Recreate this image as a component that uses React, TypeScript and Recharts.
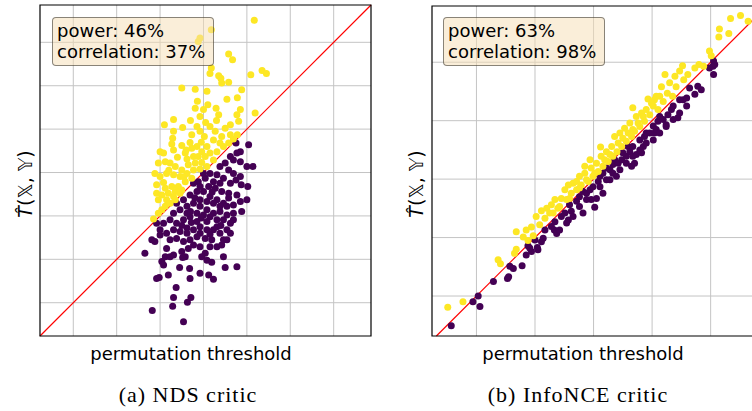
import { ReferenceArea, ReferenceLine, Scatter, ScatterChart, XAxis, YAxis } from "recharts";

type Pt = [number, number];

// grid units: one grid cell = 1, ticks are not labelled in the figure
const ndsTicks = [1, 2, 3, 4, 5, 6, 7];
const ndsDomain: [number, number] = [0.233, 7.86];
const nceTicks = [1, 2, 3, 4, 5];
const nceXDomain: [number, number] = [0.241, 5.894];
const nceYDomain: [number, number] = [0.316, 5.962];

const ndsStats = ["power: 46%", "correlation: 37%"];
const nceStats = ["power: 63%", "correlation: 98%"];

// NDS critic: above the diagonal (yellow) / below (purple)
const ndsAbove: Pt[] = [
  [5.17, 7.51], [4.18, 7.29], [3.92, 7.1], [3.88, 7.02], [4.58, 6.73], [4.67, 6.6], [4.18, 6.41], [4.15, 6.28],
  [4.35, 6.23], [4.4, 6.17], [4.42, 6.06], [4.58, 6.08], [5.35, 6.35], [5.45, 6.28], [5.09, 6.25], [3.5, 5.95],
  [3.81, 5.92], [4.08, 5.87], [4.88, 5.91], [4.78, 5.72], [4.54, 5.69], [5.19, 5.37], [3.1, 5.1], [3.31, 5.22],
  [3.52, 5.04], [3.92, 5.29], [4.0, 5.45], [4.1, 5.56], [4.29, 5.48], [4.35, 5.33], [4.62, 5.1], [4.77, 5.33],
  [4.85, 5.45], [4.81, 5.18], [4.5, 5.02], [3.81, 5.48], [3.86, 5.64], [3.31, 4.95], [3.29, 4.79], [3.73, 4.87],
  [3.85, 5.06], [3.92, 4.95], [4.02, 4.83], [4.15, 5.06], [4.27, 4.95], [4.42, 4.83], [4.62, 4.87], [4.78, 4.87],
  [4.69, 4.77], [4.58, 4.68], [4.38, 4.68], [4.23, 4.75], [4.08, 4.6], [3.96, 4.48], [3.85, 4.6], [3.69, 4.69],
  [3.73, 4.56], [3.58, 4.45], [3.62, 4.31], [3.77, 4.37], [3.88, 4.37], [4.04, 4.37], [4.15, 4.45], [4.31, 4.48],
  [4.46, 4.6], [3.0, 4.48], [3.08, 4.45], [3.31, 4.52], [3.27, 4.66], [3.5, 4.62], [2.96, 4.22], [3.12, 4.25],
  [3.23, 4.22], [3.35, 4.14], [3.5, 4.06], [3.65, 4.18], [3.81, 4.22], [3.96, 4.23], [4.08, 4.14], [4.23, 4.29],
  [2.88, 3.98], [3.0, 3.91], [3.15, 3.98], [3.31, 3.95], [3.46, 3.91], [3.62, 3.98], [3.77, 4.06], [3.92, 4.08],
  [3.08, 3.77], [2.92, 3.72], [3.12, 3.64], [3.27, 3.68], [3.42, 3.68], [3.58, 3.79], [3.73, 3.87], [2.92, 3.52],
  [3.04, 3.48], [3.19, 3.52], [3.35, 3.56], [3.5, 3.6], [2.96, 3.37], [3.15, 3.37], [3.31, 3.45], [3.46, 3.52],
  [3.12, 3.22], [3.23, 3.29], [3.35, 3.37], [2.85, 2.93], [2.96, 3.06], [3.04, 3.14],
  [3.4, 4.35], [3.6, 4.52], [3.95, 4.7], [4.3, 5.2], [4.05, 5.15], [3.7, 5.2], [3.2, 4.05], [3.55, 3.9],
];

const ndsBelow: Pt[] = [
  [4.75, 4.68], [5.04, 4.64], [4.85, 4.48], [4.77, 4.45], [4.62, 4.37], [4.69, 4.29], [4.85, 4.25], [4.5, 4.22],
  [4.38, 4.14], [4.58, 4.06], [4.69, 3.98], [4.85, 3.91], [5.0, 4.14], [5.14, 4.14], [5.02, 3.68], [4.87, 3.72],
  [4.75, 3.83], [4.46, 3.87], [4.31, 3.95], [4.15, 3.98], [4.04, 3.87], [3.88, 3.79], [4.12, 3.68], [4.27, 3.64],
  [4.42, 3.56], [4.58, 3.52], [4.77, 3.48], [4.85, 3.33], [4.69, 3.25], [4.46, 3.29], [4.31, 3.37], [4.15, 3.45],
  [4.0, 3.56], [3.85, 3.56], [3.69, 3.48], [3.54, 3.37], [3.38, 3.29], [3.46, 3.14], [3.62, 3.22], [3.77, 3.29],
  [3.92, 3.22], [4.08, 3.14], [4.23, 3.06], [4.38, 3.1], [4.54, 3.02], [4.69, 2.91], [4.88, 3.1], [4.62, 2.83],
  [4.46, 2.91], [4.31, 2.91], [4.15, 2.98], [4.0, 3.02], [3.85, 3.06], [3.69, 2.98], [3.54, 2.91], [3.38, 2.83],
  [3.23, 2.91], [3.08, 2.83], [2.92, 2.83], [3.0, 2.68], [3.31, 3.06], [3.0, 2.56], [3.15, 2.6], [3.31, 2.68],
  [3.46, 2.64], [3.62, 2.72], [3.77, 2.68], [3.92, 2.75], [4.08, 2.68], [4.23, 2.68], [4.38, 2.6], [4.54, 2.68],
  [4.62, 2.6], [3.38, 2.48], [3.54, 2.41], [3.69, 2.45], [3.77, 2.33], [3.65, 2.25], [3.5, 2.18], [4.04, 2.48],
  [4.19, 2.45], [4.31, 2.29], [4.15, 2.29], [4.42, 2.33], [4.46, 2.45], [4.04, 2.14], [3.96, 2.06], [4.08, 1.98],
  [4.19, 1.93], [4.46, 2.06], [3.58, 2.06], [3.52, 2.04], [2.81, 2.45], [2.88, 2.41], [2.65, 2.14], [3.04, 1.95],
  [3.08, 1.87], [3.12, 2.06], [3.23, 2.06], [3.31, 2.1], [2.92, 1.56], [2.98, 1.58], [3.19, 1.64], [3.45, 1.81],
  [3.68, 1.79], [3.69, 1.56], [3.92, 1.68], [4.12, 1.64], [4.23, 1.54], [4.5, 1.81], [4.77, 1.83], [3.37, 1.35],
  [3.31, 1.12], [3.29, 0.92], [3.63, 1.01], [3.71, 1.12], [2.82, 0.82], [3.54, 0.56], [3.92, 3.37], [4.23, 3.29],
  [4.54, 3.22], [4.38, 3.75], [4.62, 3.75], [4.23, 3.79], [3.92, 3.68], [3.77, 3.75], [3.62, 3.06], [4.08, 2.87],
  [3.85, 2.87], [3.62, 2.6], [3.92, 2.6], [4.31, 2.75], [4.69, 3.06], [4.54, 2.45], [3.85, 2.52], [3.23, 2.45],
  [3.15, 2.25], [3.92, 2.29], [5.0, 3.37], [4.58, 3.41], [4.38, 3.22], [4.08, 3.33], [4.0, 3.98],
  [3.7, 3.1], [3.95, 2.95], [4.2, 3.55], [4.4, 2.78], [3.5, 2.78], [3.72, 2.85], [4.15, 2.58], [3.8, 3.42],
];

// InfoNCE critic
const nceAbove: Pt[] = [
  [0.51, 0.81], [0.77, 0.9], [1.37, 1.62], [1.41, 1.55], [1.65, 1.73], [1.68, 1.8], [1.68, 2.1], [1.8, 2.01],
  [1.88, 1.95], [1.97, 2.03], [1.94, 2.18], [2.08, 2.22], [2.11, 2.46], [2.17, 2.33], [2.25, 2.42], [2.28, 2.56],
  [2.34, 2.65], [2.39, 2.5], [2.45, 2.67], [2.51, 2.82], [2.54, 2.65], [2.62, 2.76], [2.65, 2.93], [2.71, 2.82],
  [2.76, 3.05], [2.79, 2.9], [2.85, 3.1], [2.91, 2.96], [2.96, 3.19], [2.99, 3.05], [3.05, 3.27], [3.08, 3.13],
  [3.12, 3.55], [3.13, 3.39], [3.16, 3.22], [3.22, 3.47], [3.25, 3.3], [3.31, 3.56], [3.33, 3.39], [3.36, 3.73],
  [3.4, 3.47], [3.45, 3.79], [3.48, 3.56], [3.53, 3.87], [3.56, 3.65], [3.62, 3.96], [3.65, 3.73], [3.67, 4.22],
  [3.7, 3.82], [3.73, 4.07], [3.79, 3.9], [3.82, 4.13], [3.87, 3.99], [3.93, 4.37], [3.96, 4.1], [4.02, 4.25],
  [4.07, 4.42], [4.1, 4.19], [4.16, 4.58], [4.19, 4.33], [4.22, 4.79], [4.26, 4.47], [4.3, 4.65], [4.35, 4.42],
  [4.39, 4.76], [4.41, 4.58], [4.47, 4.85], [4.52, 4.94], [4.54, 4.7], [4.61, 4.79], [4.73, 4.9], [4.8, 4.96],
  [4.88, 4.93], [4.98, 5.19], [5.01, 5.11], [5.15, 5.57], [5.14, 5.43], [5.31, 5.49], [5.34, 5.75], [5.51, 5.8],
  [5.64, 5.7], [2.42, 2.53], [2.31, 2.42], [2.59, 2.67], [2.76, 2.85], [2.88, 2.99], [3.02, 3.1], [3.19, 3.33],
  [3.28, 3.42], [3.42, 3.62], [3.5, 3.7], [3.59, 3.79], [3.67, 3.85], [3.76, 3.96], [3.85, 4.07], [3.9, 4.19],
  [3.99, 4.3], [4.04, 4.36], [4.13, 4.42], [2.85, 3.22], [2.71, 2.96], [2.57, 2.9], [2.94, 3.33], [2.02, 2.36],
  [1.85, 2.13], [2.2, 2.5],
];

const nceBelow: Pt[] = [
  [0.57, 0.49], [1.03, 1.0], [0.94, 0.9], [1.06, 0.82], [1.29, 1.25], [1.53, 1.3], [1.55, 1.33], [1.57, 1.51],
  [1.63, 1.47], [1.78, 1.52], [1.85, 1.7], [1.94, 1.76], [1.91, 1.82], [2.05, 1.79], [2.04, 1.83], [1.88, 1.86],
  [2.0, 1.96], [2.11, 1.93], [2.14, 1.99], [2.28, 2.19], [2.33, 2.13], [2.17, 2.13], [2.37, 2.07], [2.34, 2.27],
  [2.45, 2.36], [2.51, 2.42], [2.57, 2.3], [2.62, 2.45], [2.59, 2.56], [2.71, 2.62], [2.76, 2.7], [2.82, 2.79],
  [2.88, 2.76], [2.94, 2.82], [2.99, 2.87], [3.02, 2.52], [2.96, 2.65], [3.08, 2.96], [3.11, 3.05], [3.16, 3.1],
  [3.22, 3.19], [3.28, 3.16], [3.33, 3.25], [3.36, 3.33], [3.42, 3.27], [3.48, 3.33], [3.5, 3.45], [3.56, 3.39],
  [3.59, 3.56], [3.62, 3.47], [3.67, 3.56], [3.7, 3.27], [3.73, 3.42], [3.65, 3.22], [3.79, 3.67], [3.82, 3.45],
  [3.85, 3.56], [3.87, 3.73], [3.9, 3.79], [3.96, 3.79], [4.02, 3.91], [4.04, 3.79], [4.07, 3.85], [4.1, 3.99],
  [4.13, 4.07], [4.19, 4.02], [4.24, 3.93], [4.27, 4.1], [4.33, 4.19], [4.36, 4.25], [4.44, 4.05], [4.47, 4.36],
  [4.53, 4.36], [4.59, 4.39], [4.64, 4.56], [4.73, 4.45], [4.84, 4.53], [4.78, 4.59], [4.98, 4.9], [5.04, 4.93],
  [5.05, 5.02], [5.07, 4.96], [5.05, 4.79], [2.76, 2.53], [2.88, 2.65], [3.11, 2.87], [3.22, 2.99], [3.33, 3.1],
  [3.45, 3.16], [3.56, 3.27], [3.67, 3.39], [3.79, 3.5], [3.9, 3.62], [4.02, 3.67], [4.13, 3.79], [4.24, 3.9],
  [3.28, 2.99], [3.39, 3.05], [3.16, 2.76], [3.05, 2.67], [2.65, 2.36], [2.54, 2.25], [2.42, 2.13], [2.82, 2.42],
  [4.36, 4.02], [4.47, 4.13], [4.59, 4.25],
];

const YELLOW = "#fde725";
const PURPLE = "#440154";
const GRID = "#c4c4c4";
const FONT = "'DejaVu Sans', sans-serif";

const rows = (pts: Pt[]) => pts.map(([x, y]) => ({ x, y }));

const dot = (color: string) => (p: any) => <circle cx={p.cx} cy={p.cy} r={3.5} fill={color} />;

type PanelProps = {
  left: number;
  width: number;
  margin: { top: number; left: number; right: number; bottom: number };
  xDomain: [number, number];
  yDomain: [number, number];
  ticks: number[];
  above: Pt[];
  below: Pt[];
  stats: string[];
  caption: string;
  boxLeft: number;
  yLabelX: number;
  xLabelX: number;
  captionX: number;
};

function Panel(p: PanelProps) {
  const lo = Math.max(p.xDomain[0], p.yDomain[0]);
  const hi = Math.min(p.xDomain[1], p.yDomain[1]);
  const axes = [
    <XAxis key="x" type="number" dataKey="x" domain={p.xDomain} ticks={p.ticks} allowDataOverflow height={0} tick={false} tickLine={false} axisLine={false} />,
    <YAxis key="y" type="number" dataKey="y" domain={p.yDomain} ticks={p.ticks} allowDataOverflow width={0} tick={false} tickLine={false} axisLine={false} />,
  ];
  return (
    <>
      {/* back layer: grid and the diagonal, so they sit under the points */}
      <div style={{ position: "absolute", left: p.left, top: 0 }}>
        <ScatterChart width={p.width} height={345} margin={p.margin}>
          {axes}
          {p.ticks.map((t) => (
            <ReferenceLine key={"v" + t} x={t} stroke={GRID} strokeWidth={1} />
          ))}
          {p.ticks.map((t) => (
            <ReferenceLine key={"h" + t} y={t} stroke={GRID} strokeWidth={1} />
          ))}
          <ReferenceLine segment={[{ x: lo, y: lo }, { x: hi, y: hi }]} stroke="#ff0000" strokeWidth={1.2} ifOverflow="visible" />
          <Scatter data={[]} isAnimationActive={false} />
        </ScatterChart>
      </div>
      <div style={{ position: "absolute", left: p.left, top: 0 }}>
        <ScatterChart width={p.width} height={345} margin={p.margin}>
          {axes}
          <Scatter data={rows(p.below)} shape={dot(PURPLE)} isAnimationActive={false} />
          <Scatter data={rows(p.above)} shape={dot(YELLOW)} isAnimationActive={false} />
          <ReferenceArea x1={p.xDomain[0]} x2={p.xDomain[1]} y1={p.yDomain[0]} y2={p.yDomain[1]} fill="none" stroke="#000" strokeWidth={1.2} ifOverflow="visible" />
        </ScatterChart>
      </div>
      <div
        style={{
          position: "absolute",
          left: p.boxLeft,
          top: 17,
          width: 152,
          padding: "3px 4px",
          background: "rgba(245,222,179,0.5)",
          border: "1px solid rgba(0,0,0,0.45)",
          borderRadius: 4,
          fontFamily: FONT,
          fontSize: 18,
          lineHeight: "20.5px",
          color: "#000",
          whiteSpace: "nowrap",
        }}
      >
        {p.stats.map((s) => (
          <div key={s}>{s}</div>
        ))}
      </div>
      <div
        style={{
          position: "absolute",
          left: p.yLabelX,
          top: 184,
          transform: "translate(-50%, -50%) rotate(-90deg)",
          fontFamily: FONT,
          fontSize: 19,
          whiteSpace: "nowrap",
          color: "#000",
        }}
      >
        <span style={{ fontStyle: "italic" }}>T̂</span>(𝕏, 𝕐)
      </div>
      <div
        style={{
          position: "absolute",
          left: p.xLabelX,
          top: 353,
          transform: "translate(-50%, -50%)",
          fontFamily: FONT,
          fontSize: 18,
          whiteSpace: "nowrap",
          color: "#000",
        }}
      >
        permutation threshold
      </div>
      <div
        style={{
          position: "absolute",
          left: p.captionX,
          top: 395,
          transform: "translate(-50%, -50%)",
          fontFamily: "'Liberation Serif', serif",
          fontSize: 22,
          letterSpacing: 1,
          whiteSpace: "nowrap",
          color: "#000",
        }}
      >
        {p.caption}
      </div>
    </>
  );
}

export default function App() {
  return (
    <div style={{ position: "fixed", left: 0, top: 0, width: 752, height: 411, overflow: "hidden", background: "#fff" }}>
      <Panel
        left={0}
        width={380}
        margin={{ top: 5, left: 40, right: 9, bottom: 9 }}
        xDomain={ndsDomain}
        yDomain={ndsDomain}
        ticks={ndsTicks}
        above={ndsAbove}
        below={ndsBelow}
        stats={ndsStats}
        caption="(a) NDS critic"
        boxLeft={52}
        yLabelX={25}
        xLabelX={191}
        captionX={188}
      />
      <Panel
        left={380}
        width={392}
        margin={{ top: 6, left: 52, right: 9, bottom: 9 }}
        xDomain={nceXDomain}
        yDomain={nceYDomain}
        ticks={nceTicks}
        above={nceAbove}
        below={nceBelow}
        stats={nceStats}
        caption="(b) InfoNCE critic"
        boxLeft={443}
        yLabelX={416}
        xLabelX={583}
        captionX={578}
      />
    </div>
  );
}
